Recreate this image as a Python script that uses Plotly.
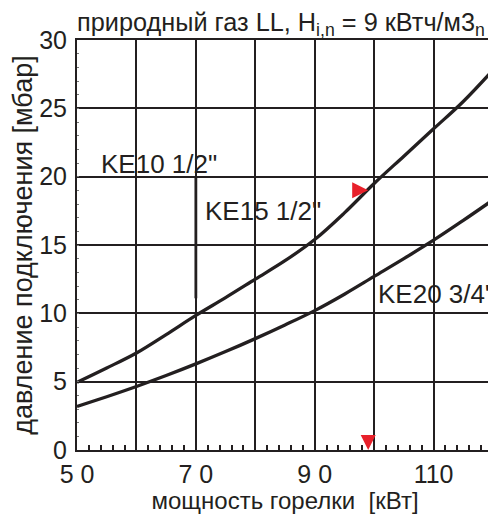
import plotly.graph_objects as go

# --- data ---
power_kw = [50, 55, 60, 65, 70, 75, 80, 85, 90, 95, 100, 105, 110, 115, 120]
ke15_mbar = [4.95, 6.0, 7.1, 8.45, 9.85, 11.15, 12.5, 13.85, 15.4, 17.35, 19.5, 21.5, 23.5, 25.5, 27.8]
ke20_mbar = [3.18, 3.9, 4.65, 5.45, 6.3, 7.2, 8.15, 9.15, 10.2, 11.4, 12.7, 14.0, 15.35, 16.8, 18.3]
ke10_kw = [70, 70]
ke10_mbar = [11.1, 20.0]
marker_kw = 99
marker_mbar = 19.0

x_tickvals = [50, 60, 70, 80, 90, 100, 110, 120]
x_ticktext = ["5 0", "", "7 0", "", "9 0", "", "110", ""]
y_tickvals = [0, 5, 10, 15, 20, 25, 30]
y_ticktext = ["0", "5", "10", "15", "20", "25", "30"]

labels = [
    ("KE10 1/2\"", 53.9, 20.9),
    ("KE15 1/2\"", 71.3, 17.5),
    ("KE20 3/4\"", 100.4, 11.45),
]

INK = "#231f20"
FONT = "Liberation Sans, Arial, sans-serif"

fig = go.Figure()

fig.add_trace(go.Scatter(x=power_kw, y=ke15_mbar, mode="lines",
                         line=dict(color=INK, width=3.3, shape="spline", smoothing=1.0),
                         showlegend=False, hoverinfo="skip"))
fig.add_trace(go.Scatter(x=power_kw, y=ke20_mbar, mode="lines",
                         line=dict(color=INK, width=3.3, shape="spline", smoothing=1.0),
                         showlegend=False, hoverinfo="skip"))
fig.add_trace(go.Scatter(x=ke10_kw, y=ke10_mbar, mode="lines",
                         line=dict(color=INK, width=2.8),
                         showlegend=False, hoverinfo="skip"))
fig.add_trace(go.Scatter(x=[marker_kw], y=[marker_mbar], mode="markers",
                         marker=dict(symbol="arrow-right", size=16, color="#e8202a",
                                     line=dict(width=0)),
                         showlegend=False, hoverinfo="skip", cliponaxis=False))
fig.add_trace(go.Scatter(x=[marker_kw], y=[0], mode="markers",
                         marker=dict(symbol="arrow-down", size=15, color="#e8202a",
                                     line=dict(width=0)),
                         showlegend=False, hoverinfo="skip", cliponaxis=False))

for txt, xv, yv in labels:
    fig.add_annotation(x=xv, y=yv, text=txt, showarrow=False, xanchor="left",
                       yanchor="middle", font=dict(family=FONT, size=26, color=INK),
                       bgcolor="rgba(0,0,0,0)", borderpad=0)

# the page body adds an 8px offset, so the figure is 8px smaller on each far side
fig.update_layout(
    width=488, height=506,
    margin=dict(l=69, r=3, t=32, b=64),
    paper_bgcolor="white", plot_bgcolor="white",
    font=dict(family=FONT, color=INK),
    title=dict(text="природный газ LL, H<sub>i,n</sub> = 9 кВтч/м3<sub>n</sub>",
               x=0, xref="paper", xanchor="left",
               y=1 - 14 / 506, yref="container", yanchor="middle",
               font=dict(family=FONT, size=25.3, color=INK)),
)

fig.update_xaxes(
    range=[50, 120], tickmode="array", tickvals=x_tickvals, ticktext=x_ticktext,
    showgrid=True, gridcolor=INK, gridwidth=1.8,
    showline=True, linecolor=INK, linewidth=2, mirror=True,
    ticks="inside", ticklen=0, tickfont=dict(family=FONT, size=25, color=INK),
    ticklabelstandoff=1, automargin=False,
    minor=dict(dtick=2, ticks="inside", ticklen=5, tickwidth=1.5, tickcolor=INK, showgrid=False),
    zeroline=False,
    title=dict(text="мощность горелки  [кВт]", font=dict(family=FONT, size=24, color=INK), standoff=0),
)
fig.update_yaxes(
    range=[0, 30], tickmode="array", tickvals=y_tickvals, ticktext=y_ticktext,
    showgrid=True, gridcolor=INK, gridwidth=1.8,
    showline=True, linecolor=INK, linewidth=2, mirror=True,
    ticks="inside", ticklen=0, tickfont=dict(family=FONT, size=25, color=INK),
    ticklabelstandoff=3, automargin=False,
    minor=dict(dtick=1, ticks="inside", ticklen=2, tickwidth=1, tickcolor="#777", showgrid=False),
    zeroline=False,
    title=dict(text="давление подключения [мбар]\u00a0\u00a0", font=dict(family=FONT, size=27, color=INK), standoff=6),
)

fig.write_html("out.html")
